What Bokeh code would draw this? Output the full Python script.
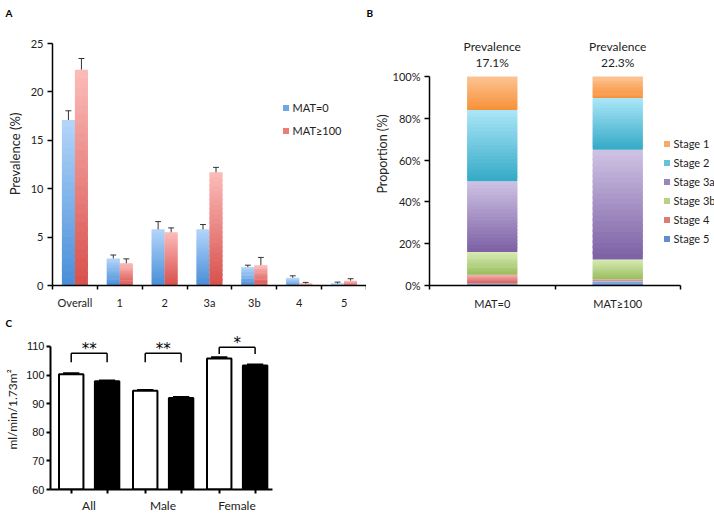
from bokeh.plotting import figure
from bokeh.models import (ColumnDataSource, FixedTicker, Legend, LegendItem, Range1d)
from bokeh.layouts import row, column
from bokeh.embed import file_html
from bokeh.resources import INLINE
from bokeh.core.properties import value

# ---------------- Panel A data ----------------
a_categories = ["Overall", "1", "2", "3a", "3b", "4", "5"]
a_series = ["MAT=0", "MAT\u2265100"]
a_mat0 = [17.1, 2.8, 5.8, 5.8, 1.9, 0.8, 0.2]
a_mat0_err = [0.95, 0.35, 0.8, 0.5, 0.2, 0.2, 0.15]
a_mat100 = [22.3, 2.3, 5.5, 11.7, 2.1, 0.2, 0.5]
a_mat100_err = [1.15, 0.45, 0.45, 0.5, 0.8, 0.12, 0.2]
a_yticks = [0, 5, 10, 15, 20, 25]

# ---------------- Panel B data ----------------
b_groups = ["MAT=0", "MAT\u2265100"]
b_stages = ["Stage 1", "Stage 2", "Stage 3a", "Stage 3b", "Stage 4", "Stage 5"]
b_mat0 = [16.0, 34.1, 33.9, 10.8, 4.2, 1.0]
b_mat100 = [10.3, 24.7, 52.6, 9.4, 0.9, 2.1]
b_yticks = [0, 20, 40, 60, 80, 100]

# ---------------- Panel C data ----------------
c_groups = ["All", "Male", "Female"]
c_mat0 = [100.3, 94.5, 105.8]
c_mat0_err = [0.3, 0.3, 0.4]
c_mat100 = [97.8, 92.0, 103.3]
c_mat100_err = [0.3, 0.3, 0.4]
c_sig = ["**", "**", "*"]
c_bracket = [107.6, 107.6, 109.7]
c_yticks = [60, 70, 80, 90, 100, 110]

FONT = "Lato"
NAN = float("nan")


def hex2rgb(h):
    h = h.lstrip("#")
    return tuple(int(h[i:i + 2], 16) for i in (0, 2, 4))


def mix(c1, c2, t):
    a, b = hex2rgb(c1), hex2rgb(c2)
    return "#%02x%02x%02x" % tuple(round(a[i] + (b[i] - a[i]) * t) for i in range(3))


def strips(xc, width, bottoms, tops, c_bot, c_top, n=24):
    d = dict(left=[], right=[], bottom=[], top=[], color=[])
    for x, b, t in zip(xc, bottoms, tops):
        h = (t - b) / n
        for k in range(n):
            d["left"].append(x - width / 2)
            d["right"].append(x + width / 2)
            d["bottom"].append(b + k * h)
            d["top"].append(b + (k + 1) * h + (0.5 * h if k < n - 1 else 0))
            d["color"].append(mix(c_bot, c_top, k / (n - 1)))
    return d


def base_style(p, letter, offset, standoff):
    p.grid.visible = False
    p.outline_line_color = None
    p.background_fill_color = "white"
    p.border_fill_color = "white"
    p.title.text = letter
    p.title.align = "left"
    p.title.offset = offset
    p.title.standoff = standoff
    p.title.text_font = FONT
    p.title.text_font_style = "bold"
    p.title.text_font_size = "10px"
    p.title.text_color = "black"


def style_axes(axes, lw, font_size="11px"):
    for ax in axes:
        ax.axis_line_width = lw
        ax.axis_line_color = "black"
        ax.major_tick_line_width = lw
        ax.minor_tick_line_width = lw
        ax.major_tick_line_color = "black"
        ax.minor_tick_line_color = "black"
        ax.major_label_text_font = FONT
        ax.major_label_text_font_size = font_size
        ax.major_label_text_color = "#222222"
        ax.axis_label_text_font = FONT
        ax.axis_label_text_font_style = "normal"
        ax.axis_label_text_color = "#222222"


def legend_marker(p, color):
    return p.scatter(x=[NAN], y=[NAN], marker="square", size=6, fill_color=color, line_color=None)


TOP_BORDER = 22
BOTTOM_BORDER = 27
ROW_H = 312
FRAME_H = ROW_H - TOP_BORDER - BOTTOM_BORDER

# ================= Panel A =================
a_px = 242 / 25.0  # pixels per unit of prevalence
pA = figure(width=366, height=ROW_H, x_range=Range1d(-0.5, 6.5),
            y_range=Range1d(0, FRAME_H / a_px),
            output_backend="svg", toolbar_location=None,
            min_border_left=52, min_border_right=0,
            min_border_top=TOP_BORDER, min_border_bottom=BOTTOM_BORDER)
base_style(pA, "A", -47, 7)

bw = 0.29
blue_bot, blue_top = "#4a8fd8", "#b2d4f9"
red_bot, red_top = "#d8524e", "#fbbab7"
xs = list(range(len(a_categories)))
x0s = [x - bw / 2 for x in xs]
x1s = [x + bw / 2 for x in xs]
pA.quad(source=ColumnDataSource(strips(x0s, bw, [0] * 7, a_mat0, blue_bot, blue_top)),
        left="left", right="right", bottom="bottom", top="top", fill_color="color", line_color=None)
pA.quad(source=ColumnDataSource(strips(x1s, bw, [0] * 7, a_mat100, red_bot, red_top)),
        left="left", right="right", bottom="bottom", top="top", fill_color="color", line_color=None)

cap = 0.065
for xc, v, e in ((x0s, a_mat0, a_mat0_err), (x1s, a_mat100, a_mat100_err)):
    ends = [vi + ei for vi, ei in zip(v, e)]
    pA.segment(x0=xc, x1=xc, y0=v, y1=ends, line_color="#333333", line_width=1)
    pA.segment(x0=[x - cap for x in xc], x1=[x + cap for x in xc], y0=ends, y1=ends,
               line_color="#333333", line_width=1)

leg_a0 = legend_marker(pA, "#6fa6e4")
leg_a1 = legend_marker(pA, "#ea7d79")
legA = Legend(items=[LegendItem(label=a_series[0], renderers=[leg_a0]),
                     LegendItem(label=a_series[1], renderers=[leg_a1])],
              location=(225.5, 147.5), glyph_width=15, glyph_height=15, label_height=13,
              label_standoff=-3, spacing=8, padding=0, margin=0,
              border_line_color=None, background_fill_alpha=0,
              label_text_font=FONT, label_text_font_size="11px", label_text_color="#222222")
pA.add_layout(legA)

pA.xaxis.ticker = FixedTicker(ticks=xs, minor_ticks=[x - 0.5 for x in range(8)])
pA.xaxis.major_label_overrides = {i: c for i, c in enumerate(a_categories)}
pA.xaxis.major_tick_out = 0
pA.xaxis.major_tick_in = 0
pA.xaxis.minor_tick_out = 4
pA.xaxis.minor_tick_in = 0
pA.xaxis.major_label_standoff = 6
pA.yaxis.ticker = FixedTicker(ticks=a_yticks, minor_ticks=[])
pA.yaxis.bounds = (0, 25)
pA.yaxis.major_tick_out = 5
pA.yaxis.major_tick_in = 0
pA.yaxis.major_label_standoff = 4
pA.yaxis.axis_label = "Prevalence (%)"
pA.yaxis.axis_label_standoff = 5
pA.yaxis.axis_label_text_font_size = "13px"
style_axes((pA.xaxis[0], pA.yaxis[0]), 1.5)

# ================= Panel B =================
b_px_unit = 125.5
b_px = 209 / 100.0
pB = figure(width=348, height=ROW_H, x_range=Range1d(-0.5, -0.5 + 285 / b_px_unit),
            y_range=Range1d(0, FRAME_H / b_px),
            output_backend="svg", toolbar_location=None,
            min_border_left=63, min_border_right=0,
            min_border_top=TOP_BORDER, min_border_bottom=BOTTOM_BORDER)
base_style(pB, "B", -63, 7)

stage_cols = [("#f7923b", "#fdc291"), ("#37abc8", "#a9e5f7"), ("#7e62a5", "#cdc1e3"),
              ("#9abf5f", "#d6eab2"), ("#d35451", "#f2a8a5"), ("#3f77c0", "#80aadc")]
stage_mid = ["#f9a866", "#62c3dd", "#9a84bd", "#b5d386", "#e07a77", "#5f8fd0"]
bbw = 0.4
bottoms = [0.0, 0.0]
for s in reversed(range(len(b_stages))):
    vals = [b_mat0[s], b_mat100[s]]
    tops = [bottoms[0] + vals[0], bottoms[1] + vals[1]]
    cb, ct = stage_cols[s]
    pB.quad(source=ColumnDataSource(strips([0, 1], bbw, bottoms, tops, cb, ct, n=20)),
            left="left", right="right", bottom="bottom", top="top",
            fill_color="color", line_color=None)
    bottoms = tops

leg_items = [LegendItem(label=name, renderers=[legend_marker(pB, stage_mid[s])])
             for s, name in enumerate(b_stages)]
legB = Legend(items=leg_items, location=(229.5, 39.5), glyph_width=15, glyph_height=15,
              label_height=13, label_standoff=-3, spacing=4, padding=0, margin=0,
              border_line_color=None, background_fill_alpha=0,
              label_text_font=FONT, label_text_font_size="11px", label_text_color="#222222")
pB.add_layout(legB)

prev = [a_mat0[0], a_mat100[0]]
pB.text(x=[0, 1], y=[114.4, 114.4], text=["Prevalence", "Prevalence"],
        text_font=value(FONT), text_font_size="12px", text_align="center",
        text_baseline="middle", text_color="#222222")
pB.text(x=[0, 1], y=[106.7, 106.7], text=[f"{v}%" for v in prev],
        text_font=value(FONT), text_font_size="12px", text_align="center",
        text_baseline="middle", text_color="#222222")

pB.xaxis.ticker = FixedTicker(ticks=[0, 1], minor_ticks=[-0.5, 0.5, 1.5])
pB.xaxis.bounds = (-0.5, 1.5)
pB.xaxis.major_label_overrides = {i: g for i, g in enumerate(b_groups)}
pB.xaxis.major_tick_out = 0
pB.xaxis.major_tick_in = 0
pB.xaxis.minor_tick_out = 4
pB.xaxis.minor_tick_in = 0
pB.xaxis.major_label_standoff = 7
pB.yaxis.ticker = FixedTicker(ticks=b_yticks, minor_ticks=[])
pB.yaxis.bounds = (0, 100)
pB.yaxis.major_label_overrides = {v: f"{v}%" for v in b_yticks}
pB.yaxis.major_tick_out = 5
pB.yaxis.major_tick_in = 0
pB.yaxis.major_label_standoff = 4
pB.yaxis.axis_label = "Proportion (%)"
pB.yaxis.axis_label_standoff = 0
pB.yaxis.axis_label_text_font_size = "12.5px"
style_axes((pB.xaxis[0], pB.yaxis[0]), 1.5)

# ================= Panel C =================
C_H = 203
C_TOP, C_BOTTOM = 17, 25
c_px = 144 / 50.0
pC = figure(width=300, height=C_H, x_range=Range1d(-0.52, 2.48),
            y_range=Range1d(60, 60 + (C_H - C_TOP - C_BOTTOM) / c_px),
            output_backend="svg", toolbar_location=None,
            min_border_left=50, min_border_right=28,
            min_border_top=C_TOP, min_border_bottom=C_BOTTOM)
base_style(pC, "C", -45, 2)

cw = 0.33
gx = list(range(len(c_groups)))
wx = [g - 0.24 for g in gx]
kx = [g + 0.245 for g in gx]
pC.vbar(x=wx, top=c_mat0, bottom=60, width=cw, fill_color="white", line_color="black", line_width=2)
pC.vbar(x=kx, top=c_mat100, bottom=60, width=cw, fill_color="black", line_color="black", line_width=2)
ccap = 0.11
for xc, v, e in ((wx, c_mat0, c_mat0_err), (kx, c_mat100, c_mat100_err)):
    ends = [vi + ei for vi, ei in zip(v, e)]
    pC.segment(x0=xc, x1=xc, y0=v, y1=ends, line_color="black", line_width=2)
    pC.segment(x0=[x - ccap for x in xc], x1=[x + ccap for x in xc], y0=ends, y1=ends,
               line_color="black", line_width=2)

legs = [3.1, 3.1, 2.4]
pC.segment(x0=wx, x1=kx, y0=c_bracket, y1=c_bracket, line_color="black", line_width=1.5)
pC.segment(x0=wx, x1=wx, y0=c_bracket, y1=[b - l for b, l in zip(c_bracket, legs)],
           line_color="black", line_width=1.5)
pC.segment(x0=kx, x1=kx, y0=c_bracket, y1=[b - l for b, l in zip(c_bracket, legs)],
           line_color="black", line_width=1.5)
pC.text(x=[(a + b) / 2 for a, b in zip(wx, kx)], y=[b + 1.6 for b in c_bracket], text=c_sig,
        text_font=value("DejaVu Sans"), text_font_size="15px", text_align="center",
        text_baseline="alphabetic", text_color="black")

pC.xaxis.ticker = FixedTicker(ticks=gx, minor_ticks=sorted(wx + kx))
pC.xaxis.major_label_overrides = {i: g for i, g in enumerate(c_groups)}
pC.xaxis.major_tick_out = 0
pC.xaxis.major_tick_in = 0
pC.xaxis.minor_tick_out = 4
pC.xaxis.minor_tick_in = 0
pC.xaxis.major_label_standoff = 4
pC.yaxis.ticker = FixedTicker(ticks=c_yticks, minor_ticks=[])
pC.yaxis.bounds = (60, 110)
pC.yaxis.major_tick_out = 4
pC.yaxis.major_tick_in = 0
pC.yaxis.major_label_standoff = 2
pC.yaxis.axis_label = "ml/min/1.73m\u00b2"
pC.yaxis.axis_label_standoff = 3
style_axes((pC.xaxis[0], pC.yaxis[0]), 2, "12px")
pC.yaxis.major_label_text_font = "Liberation Sans"
pC.yaxis.major_label_text_font_size = "11px"
pC.yaxis.major_label_text_color = "#111111"
pC.yaxis.axis_label_text_font_size = "12px"

layout = column(row(pA, pB), pC)
open("out.html", "w").write(file_html(layout, INLINE))
